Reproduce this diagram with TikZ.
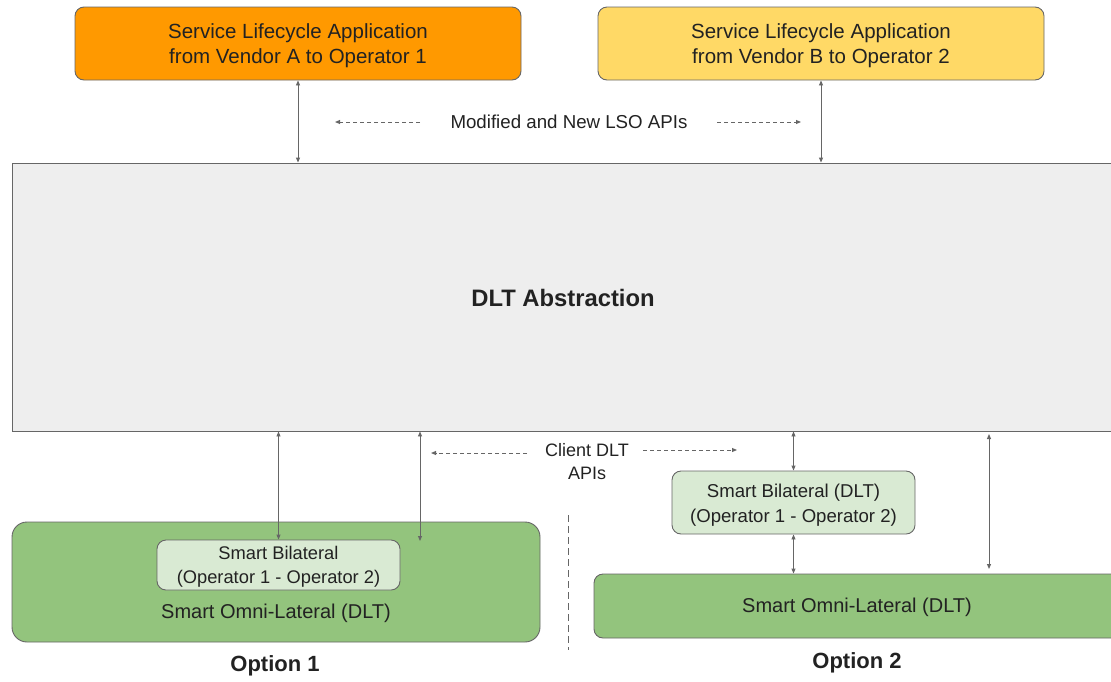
\documentclass[tikz,border=0pt]{standalone}
\usepackage{fontspec}
\setmainfont{Liberation Sans}
\usetikzlibrary{arrows.meta}
\definecolor{orangeA}{HTML}{FF9900}
\definecolor{yellowB}{HTML}{FFD966}
\definecolor{greenD}{HTML}{93C47D}
\definecolor{greenL}{HTML}{D9EAD3}
\definecolor{grayF}{HTML}{EEEEEE}
\definecolor{edge}{HTML}{666666}
\definecolor{ink}{HTML}{222222}
\begin{document}
\begin{tikzpicture}[x=1pt,y=-1pt,
  box/.style={draw=edge, line width=0.9pt, rounded corners=9pt, inner sep=0pt},
  conn/.style={draw=edge, line width=0.9pt, {Triangle[length=5pt,width=4pt]}-{Triangle[length=5pt,width=4pt]}},
  dashconn/.style={draw=edge, line width=0.9pt, dash pattern=on 4pt off 3pt, -{Triangle[length=5pt,width=4pt]}},
  lbl/.style={text=ink, align=center, inner sep=0pt},
  apptxt/.style={font=\fontsize{20.5}{25}\selectfont},
  omnitxt/.style={font=\fontsize{20}{24}\selectfont},
  bitxt/.style={font=\fontsize{18.3}{24}\selectfont},
  bitxtb/.style={font=\fontsize{18.6}{25}\selectfont},
  optxt/.style={font=\fontsize{22}{26}\selectfont\bfseries}]
\useasboundingbox (0,0) rectangle (1111,681);

% top applications
\node[box, fill=orangeA, minimum width=446pt, minimum height=73pt] (A) at (298,43.5) {};
\node[lbl, apptxt] (At) at (298,45.5) {Service Lifecycle Application\\from Vendor A to Operator 1};
\node[box, fill=yellowB, minimum width=446pt, minimum height=73pt] (B) at (821,43.5) {};
\node[lbl, apptxt] (Bt) at (821,45.5) {Service Lifecycle Application\\from Vendor B to Operator 2};

% abstraction layer
\node[draw=edge, line width=0.9pt, fill=grayF, minimum width=1102pt, minimum height=268pt, inner sep=0pt] (D) at (563.5,297) {};
\node[lbl, font=\fontsize{23.8}{28}\selectfont\bfseries] (Dt) at (563,298) {DLT Abstraction};

\draw[conn] (A.south) -- (A.south |- D.north);
\draw[conn] (B.south) -- (B.south |- D.north);

\node[lbl, font=\fontsize{18.7}{22}\selectfont] (lso) at (569,122) {Modified and New LSO APIs};
\coordinate (l1) at (420,122); \coordinate (l2) at (335,122);
\coordinate (r1) at (717,122); \coordinate (r2) at (801,122);
\draw[dashconn] (l1) -- (l2);
\draw[dashconn] (r1) -- (r2);

% option 1
\node[box, fill=greenD, rounded corners=15pt, minimum width=528pt, minimum height=120pt] (O1) at (276,582) {};
\node[box, fill=greenL, minimum width=243pt, minimum height=50pt] (S1) at (278.5,565) {};
\node[lbl, bitxt] (S1t) at (278.5,567) {Smart Bilateral\\(Operator 1 - Operator 2)};
\node[lbl, omnitxt] (O1t) at (276,613) {Smart Omni-Lateral (DLT)};
\node[lbl, optxt] (Op1) at (275,666) {Option 1};

\draw[conn] (S1.north |- D.south) -- (S1.north);
\coordinate (c1) at (420,541);
\draw[conn] (c1 |- D.south) -- (c1);

% client api label
\node[lbl, font=\fontsize{18}{23}\selectfont] (cl) at (587,462) {Client DLT\\APIs};
\coordinate (m1) at (527,453); \coordinate (m2) at (431,453);
\coordinate (n1) at (643,450); \coordinate (n2) at (737,450);
\draw[dashconn] (m1) -- (m2);
\draw[dashconn] (n1) -- (n2);

% separator
\coordinate (s1) at (568,515); \coordinate (s2) at (568,650);
\draw[edge, line width=0.8pt, dash pattern=on 7pt off 4pt] (s1) -- (s2);

% option 2
\node[box, fill=greenL, minimum width=243pt, minimum height=63pt] (S2) at (793.5,502.5) {};
\node[lbl, bitxtb] (S2t) at (793.5,505.5) {Smart Bilateral (DLT)\\(Operator 1 - Operator 2)};
\node[box, fill=greenD, minimum width=530pt, minimum height=64pt] (O2) at (859,606) {};
\node[lbl, omnitxt] (O2t) at (857,607) {Smart Omni-Lateral (DLT)};
\node[lbl, optxt] (Op2) at (857,663) {Option 2};

\draw[conn] (S2.north |- D.south) -- (S2.north);
\draw[conn] (S2.south) -- (S2.south |- O2.north);
\coordinate (e1) at (989,434); \coordinate (e2) at (989,569);
\draw[conn] (e1) -- (e2);
\end{tikzpicture}
\end{document}
